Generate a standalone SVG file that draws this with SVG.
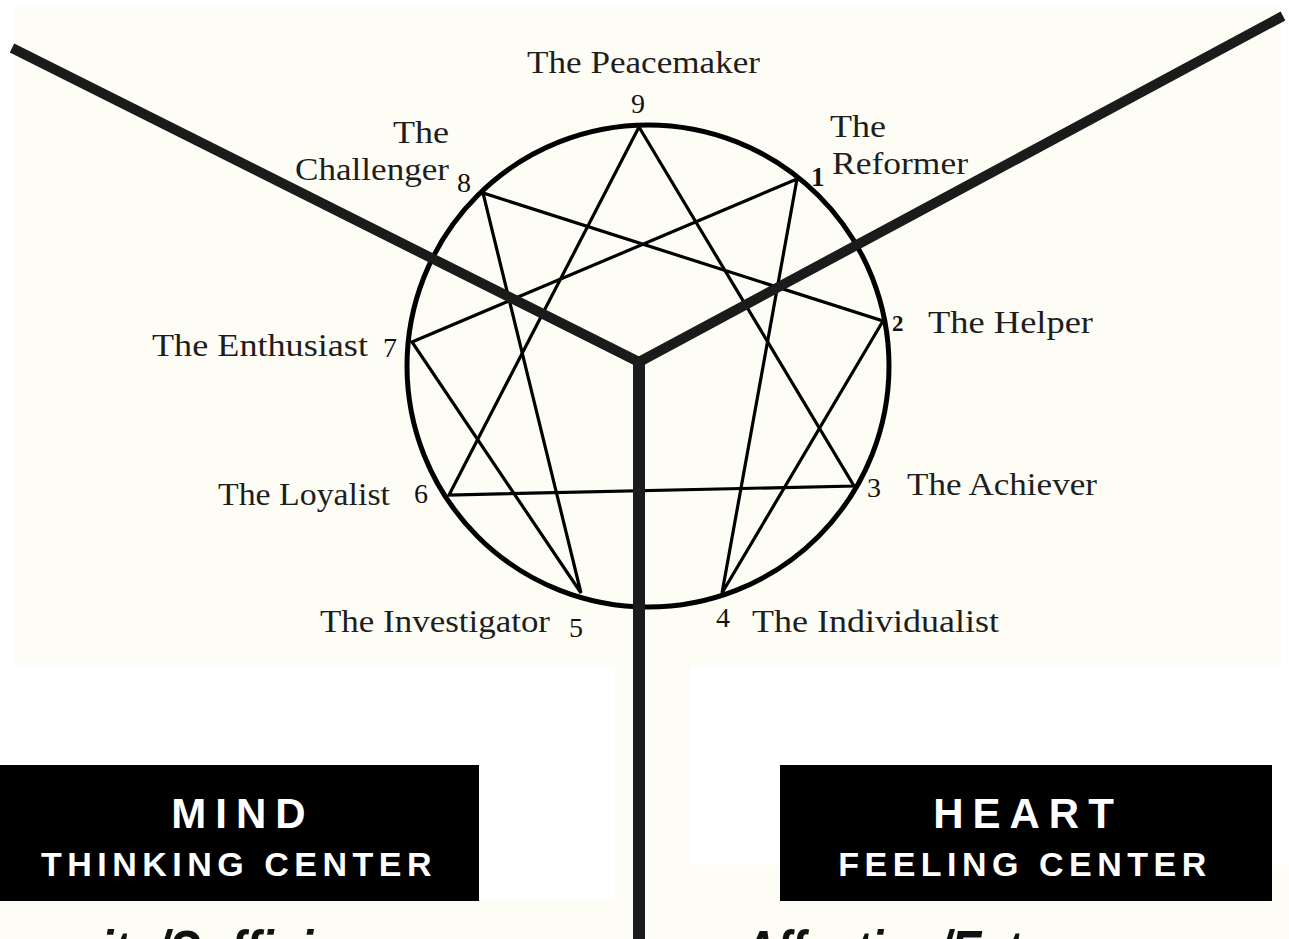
<svg xmlns="http://www.w3.org/2000/svg" width="1289" height="939" viewBox="0 0 1289 939">
<style>
.lbl{font-family:"Liberation Serif","DejaVu Serif",serif;font-size:32px;fill:#1e1e1e}
.num{font-family:"Liberation Serif","DejaVu Serif",serif;font-size:28px;fill:#111}
.conn{stroke:#000;stroke-width:3.2;fill:none;stroke-linecap:round}
.bar{stroke:#1b1b1b;fill:none}
.box{fill:#000}
.big{font-family:"Liberation Sans",Arial,sans-serif;font-weight:bold;font-size:42px;fill:#fff;letter-spacing:9px}
.sub{font-family:"Liberation Sans",Arial,sans-serif;font-weight:bold;font-size:34px;fill:#fff;letter-spacing:5.5px}
.cut{font-family:"Liberation Sans",Arial,sans-serif;font-weight:bold;font-style:italic;font-size:58px;fill:#111}
</style>
<rect x="0" y="0" width="1289" height="939" fill="#ffffff"/>
<g id="background" fill="#fdfdf6">
<rect x="14" y="6" width="1267" height="660"/>
<rect x="615" y="666" width="75" height="273"/>
<rect x="0" y="900" width="640" height="39"/>
<rect x="690" y="865" width="599" height="74"/>
</g>
<circle id="circle" cx="648" cy="366" r="241" fill="none" stroke="#000" stroke-width="5"/>
<g id="connectors">
<polyline class="conn" points="639,127 854,486 449,495 639,127"/>
<polyline class="conn" points="797,179 722,593 883,321 483,193 581,593 412,342 797,179"/>
</g>
<g id="centers-lines">
<polyline class="bar" stroke-width="10" stroke-linejoin="miter" points="12,48 639,362 1283,16"/>
<line class="bar" stroke-width="12" x1="639" y1="360" x2="639" y2="939"/>
</g>
<g id="node-9"><text class="lbl" x="527" y="73" textLength="233" lengthAdjust="spacingAndGlyphs">The Peacemaker</text><text class="num" x="631" y="113">9</text></g>
<g id="node-1"><text class="lbl" x="830" y="137" textLength="56" lengthAdjust="spacingAndGlyphs">The</text><text class="lbl" x="832" y="174" textLength="136" lengthAdjust="spacingAndGlyphs">Reformer</text><text class="num" x="811" y="186" style="font-size:27px;font-weight:bold">1</text></g>
<g id="node-2"><text class="num" x="892" y="331" style="font-size:23px;font-weight:bold">2</text><text class="lbl" x="928" y="333" textLength="165" lengthAdjust="spacingAndGlyphs">The Helper</text></g>
<g id="node-3"><text class="num" x="867" y="497">3</text><text class="lbl" x="907" y="495" textLength="190" lengthAdjust="spacingAndGlyphs">The Achiever</text></g>
<g id="node-4"><text class="num" x="716" y="627">4</text><text class="lbl" x="752" y="632" textLength="247" lengthAdjust="spacingAndGlyphs">The Individualist</text></g>
<g id="node-5"><text class="lbl" x="320" y="632" textLength="230" lengthAdjust="spacingAndGlyphs">The Investigator</text><text class="num" x="569" y="637">5</text></g>
<g id="node-6"><text class="lbl" x="218" y="505" textLength="172" lengthAdjust="spacingAndGlyphs">The Loyalist</text><text class="num" x="414" y="503">6</text></g>
<g id="node-7"><text class="lbl" x="152" y="356" textLength="216" lengthAdjust="spacingAndGlyphs">The Enthusiast</text><text class="num" x="383" y="357">7</text></g>
<g id="node-8"><text class="lbl" x="393" y="143" textLength="56" lengthAdjust="spacingAndGlyphs">The</text><text class="lbl" x="295" y="180" textLength="154" lengthAdjust="spacingAndGlyphs">Challenger</text><text class="num" x="457" y="192">8</text></g>
<g id="mind-box">
<rect class="box" x="0" y="765" width="479" height="136"/>
<text class="big" x="243" y="828" text-anchor="middle">MIND</text>
<text class="sub" x="239" y="876" text-anchor="middle">THINKING CENTER</text>
</g>
<g id="heart-box">
<rect class="box" x="780" y="765" width="492" height="136"/>
<text class="big" x="1028" y="828" text-anchor="middle">HEART</text>
<text class="sub" x="1025" y="876" text-anchor="middle">FEELING CENTER</text>
</g>
<g id="cut-texts">
<text class="cut" transform="scale(0.82,1)" x="-39" y="971">Security/Sufficiency</text>
<text class="cut" transform="scale(0.78,1)" x="953" y="971">Affection/Esteem</text>
</g>
</svg>
